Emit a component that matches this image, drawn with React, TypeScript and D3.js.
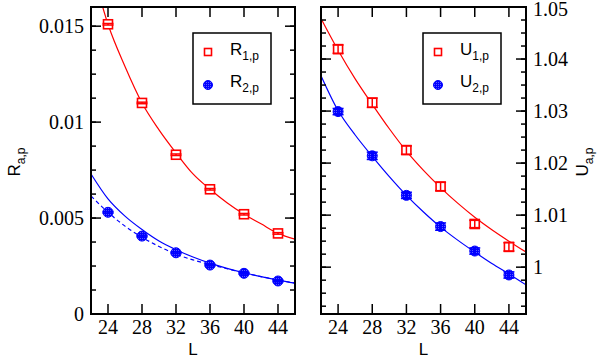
import React from 'react';
import * as d3 from 'd3';

const width = 600;
const height = 362;

// measured points
const sizes = [24, 28, 32, 36, 40, 44];
const r1 = [0.0151, 0.0110, 0.0083, 0.0065, 0.0052, 0.0042];
const r1Err = [0.00004, 0.00004, 0.00004, 0.00004, 0.00004, 0.00004];
const r2 = [0.0053, 0.00406, 0.00319, 0.00255, 0.00212, 0.00172];
const r2Err = [0.00004, 0.00004, 0.00004, 0.00004, 0.00004, 0.00004];
const u1 = [1.0419, 1.0316, 1.0225, 1.0155, 1.0083, 1.0039];
const u1Err = [0.0008, 0.0009, 0.0008, 0.0008, 0.0007, 0.0008];
const u2 = [1.0299, 1.0214, 1.0138, 1.0078, 1.0031, 0.9985];
const u2Err = [0.0006, 0.0007, 0.0006, 0.0007, 0.0006, 0.0006];

// fit curves
const fitL = [22, 24, 26, 28, 30, 32, 34, 36, 38, 40, 42, 44, 46];
const r1Fit = [0.0182, 0.0151, 0.0129, 0.0110, 0.0096, 0.0084, 0.0073, 0.0065, 0.0058, 0.0052, 0.0047, 0.0042, 0.0039];
const r2Fit = [0.0073, 0.0060, 0.0051, 0.0044, 0.0038, 0.00335, 0.00297, 0.00265, 0.00238, 0.00215, 0.00195, 0.00177, 0.00161];
const r2FitDash = [0.00615, 0.0053, 0.00458, 0.0040, 0.00352, 0.00312, 0.00282, 0.00258, 0.00236, 0.00214, 0.00195, 0.00177, 0.00161];
const u1Fit = [1.0478, 1.0417, 1.0362, 1.0313, 1.0266, 1.0223, 1.0186, 1.0153, 1.0123, 1.0096, 1.0072, 1.005, 1.0029];
const u2Fit = [1.0368, 1.0301, 1.0254, 1.0213, 1.0174, 1.0138, 1.0106, 1.0077, 1.0052, 1.0029, 1.0007, 0.9987, 0.9966];

const xTicks = [24, 28, 32, 36, 40, 44];
const rTicks = [0, 0.005, 0.01, 0.015];
const rTickLabels = ['0', '0.005', '0.01', '0.015'];
const uTicks = [1, 1.01, 1.02, 1.03, 1.04, 1.05];
const uTickLabels = ['1', '1.01', '1.02', '1.03', '1.04', '1.05'];

const RED = '#ff0000';
const BLUE = '#0000ff';
const serif = '"Liberation Serif", "Times New Roman", serif';
const sans = '"Liberation Sans", Arial, sans-serif';

function Square({ x, y, s }) {
  return <rect x={x - s / 2} y={y - s / 2} width={s} height={s} fill="white" stroke={RED} strokeWidth={1.6} />;
}

function Dot({ x, y, r }) {
  return <circle cx={x} cy={y} r={r} fill="url(#bluedots)" stroke={BLUE} strokeWidth={1} />;
}

function Panel({ id, left, right, yDomain, ticks, tickLabels, minorStep, labelSide,
  series, fits, letter, legendX, titleX }) {
  const top = 7;
  const bottom = 314;
  const x = d3.scaleLinear().domain([22, 46]).range([left, right]);
  const y = d3.scaleLinear().domain(yDomain).range([bottom, top]);
  const minors = d3.range(Math.ceil(yDomain[0] / minorStep), Math.floor(yDomain[1] / minorStep + 1e-6) + 1)
    .map(k => k * minorStep);
  const line = d3.line().x(d => x(d[0])).y(d => y(d[1])).curve(d3.curveMonotoneX);
  const mid = (left + right) / 2;

  return (
    <g>
      <clipPath id={id}>
        <rect x={left} y={top} width={right - left} height={bottom - top} />
      </clipPath>
      <g clipPath={`url(#${id})`}>
        {fits.map((f, i) => (
          <path key={i} d={line(fitL.map((l, j) => [l, f.values[j]]))} fill="none"
            stroke={f.color} strokeWidth={1.2} strokeDasharray={f.dash || null} />
        ))}
      </g>
      {series.map((s, i) => (
        <g key={i}>
          {sizes.map((l, j) => {
            const cx = x(l);
            const yHi = y(s.values[j] + s.err[j]);
            const yLo = y(s.values[j] - s.err[j]);
            return (
              <g key={j}>
                {s.kind === 'square' ? <Square x={cx} y={y(s.values[j])} s={9} /> : <Dot x={cx} y={y(s.values[j])} r={5} />}
                <line x1={cx} x2={cx} y1={yHi} y2={yLo} stroke={s.color} strokeWidth={1.5} />
                <line x1={cx - 5.5} x2={cx + 5.5} y1={yHi} y2={yHi} stroke={s.color} strokeWidth={1.5} />
                <line x1={cx - 5.5} x2={cx + 5.5} y1={yLo} y2={yLo} stroke={s.color} strokeWidth={1.5} />
              </g>
            );
          })}
        </g>
      ))}
      {/* ticks on all four sides, pointing in */}
      {xTicks.map(t => (
        <g key={t}>
          <line x1={x(t)} x2={x(t)} y1={bottom} y2={bottom - 10} stroke="black" strokeWidth={1.5} />
          <line x1={x(t)} x2={x(t)} y1={top} y2={top + 10} stroke="black" strokeWidth={1.5} />
          <text x={x(t)} y={334} textAnchor="middle" fontFamily={serif} fontSize={20}>{t}</text>
        </g>
      ))}
      {minors.map((t, i) => (
        <g key={i}>
          <line x1={left} x2={left + 5} y1={y(t)} y2={y(t)} stroke="black" strokeWidth={1.5} />
          <line x1={right} x2={right - 5} y1={y(t)} y2={y(t)} stroke="black" strokeWidth={1.5} />
        </g>
      ))}
      {ticks.map((t, i) => (
        <g key={i}>
          <line x1={left} x2={left + 10} y1={y(t)} y2={y(t)} stroke="black" strokeWidth={1.5} />
          <line x1={right} x2={right - 10} y1={y(t)} y2={y(t)} stroke="black" strokeWidth={1.5} />
          <text x={labelSide === 'left' ? left - 7 : right + 7} y={Math.max(y(t) + 6.6, 16)}
            textAnchor={labelSide === 'left' ? 'end' : 'start'} fontFamily={serif} fontSize={20}>
            {tickLabels[i]}
          </text>
        </g>
      ))}
      <rect x={left} y={top} width={right - left} height={bottom - top} fill="none" stroke="black" strokeWidth={2} />
      <text x={mid} y={355} textAnchor="middle" fontFamily={sans} fontSize={17}>L</text>
      <text transform={`translate(${titleX},162) rotate(-90)`} textAnchor="middle"
        fontFamily={sans} fontSize={17}>
        {letter}<tspan dy={5} fontSize={12}>a,p</tspan>
      </text>
      {/* legend */}
      <rect x={legendX} y={33} width={78} height={71} fill="white" stroke="black" strokeWidth={1.5} />
      <Square x={legendX + 15} y={52} s={7} />
      <Dot x={legendX + 15} y={85} r={4.5} />
      <text x={legendX + 37} y={55} fontFamily={sans} fontSize={17}>
        {letter}<tspan dy={5} fontSize={12}>1,p</tspan>
      </text>
      <text x={legendX + 37} y={87} fontFamily={sans} fontSize={17}>
        {letter}<tspan dy={5} fontSize={12}>2,p</tspan>
      </text>
    </g>
  );
}

export default function App() {
  return (
    <svg width={width} height={height} style={{ position: 'absolute', left: 0, top: 0, background: 'white' }}>
      <defs>
        <pattern id="bluedots" width={2} height={2} patternUnits="userSpaceOnUse">
          <rect width={2} height={2} fill={BLUE} />
          <rect width={1} height={1} fill="#5a5aff" />
        </pattern>
      </defs>
      <rect width={width} height={height} fill="white" />
      <Panel id="clipR" left={91} right={295} yDomain={[0, 0.016]} ticks={rTicks} tickLabels={rTickLabels}
        minorStep={0.00125} labelSide="left" letter="R" legendX={193} titleX={20}
        series={[
          { values: r1, err: r1Err, color: RED, kind: 'square' },
          { values: r2, err: r2Err, color: BLUE, kind: 'dot' },
        ]}
        fits={[
          { values: r1Fit, color: RED },
          { values: r2Fit, color: BLUE },
          { values: r2FitDash, color: BLUE, dash: '4,3' },
        ]} />
      <Panel id="clipU" left={321} right={526} yDomain={[0.991, 1.05]} ticks={uTicks} tickLabels={uTickLabels}
        minorStep={0.0025} labelSide="right" letter="U" legendX={423} titleX={588}
        series={[
          { values: u1, err: u1Err, color: RED, kind: 'square' },
          { values: u2, err: u2Err, color: BLUE, kind: 'dot' },
        ]}
        fits={[
          { values: u1Fit, color: RED },
          { values: u2Fit, color: BLUE },
        ]} />
    </svg>
  );
}
